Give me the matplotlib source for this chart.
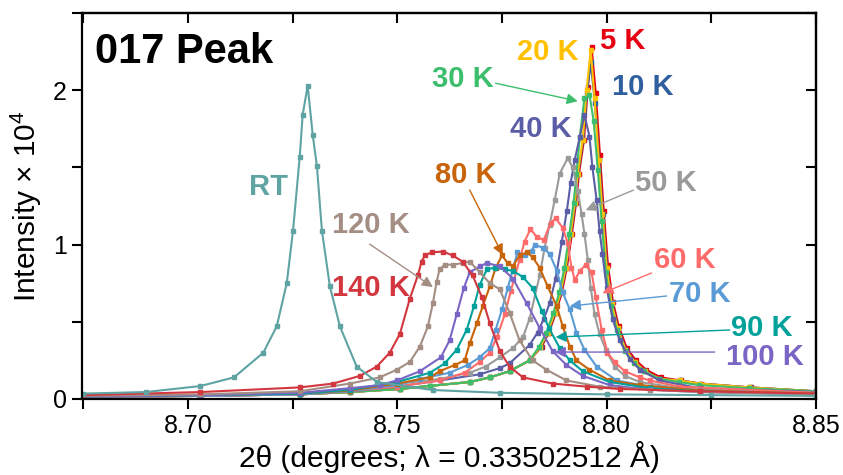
import matplotlib
matplotlib.use("Agg")
import matplotlib.pyplot as plt
from matplotlib.ticker import MultipleLocator

plt.rcParams['font.family'] = ['Liberation Sans', 'DejaVu Sans']
plt.rcParams['mathtext.fontset'] = 'custom'
plt.rcParams['mathtext.rm'] = 'Liberation Sans'
plt.rcParams['mathtext.it'] = 'Liberation Sans'

# ---------------- data (2theta in degrees, intensity x 1e4) ----------------
x_5K = [8.675, 8.703, 8.7267, 8.7387, 8.7506, 8.7578, 8.7673, 8.7721, 8.7768, 8.7816, 8.7845, 8.7862,
        8.7879, 8.7893, 8.7905, 8.7917, 8.7927, 8.7934, 8.7946, 8.7955, 8.7964, 8.7974, 8.7984, 8.7993,
        8.8003, 8.8015, 8.8029, 8.8048, 8.8070, 8.8094, 8.8129, 8.8177, 8.8225, 8.8344, 8.85]
y_5K = [0.015, 0.02, 0.03, 0.045, 0.065, 0.085, 0.11, 0.14, 0.18, 0.25, 0.34, 0.43,
        0.56, 0.69, 0.85, 1.07, 1.27, 1.46, 1.68, 2.02, 2.28, 1.98, 1.58, 1.22,
        0.87, 0.63, 0.47, 0.33, 0.25, 0.19, 0.14, 0.12, 0.10, 0.075, 0.05]

x_10K = [8.675, 8.703, 8.7267, 8.7387, 8.7506, 8.7578, 8.7673, 8.7721, 8.7768, 8.7816, 8.7843, 8.7860,
         8.7877, 8.7891, 8.7903, 8.7915, 8.7925, 8.7932, 8.7944, 8.7953, 8.7962, 8.7972, 8.7982, 8.7991,
         8.8001, 8.8013, 8.8027, 8.8046, 8.8068, 8.8092, 8.8127, 8.8175, 8.8223, 8.8342, 8.85]
y_10K = [0.015, 0.02, 0.03, 0.045, 0.065, 0.085, 0.11, 0.14, 0.18, 0.25, 0.34, 0.43,
         0.56, 0.69, 0.85, 1.07, 1.27, 1.46, 1.68, 1.98, 2.18, 1.92, 1.55, 1.20,
         0.85, 0.62, 0.46, 0.32, 0.24, 0.18, 0.13, 0.12, 0.10, 0.075, 0.05]

x_20K = [8.675, 8.703, 8.7267, 8.7387, 8.7506, 8.7578, 8.7673, 8.7721, 8.7768, 8.7816, 8.7842, 8.7859,
         8.7876, 8.7890, 8.7902, 8.7914, 8.7924, 8.7931, 8.7943, 8.7952, 8.7962, 8.7971, 8.7981, 8.7990,
         8.8000, 8.8012, 8.8026, 8.8045, 8.8067, 8.8091, 8.8126, 8.8174, 8.8222, 8.8341, 8.85]
y_20K = [0.015, 0.02, 0.03, 0.045, 0.065, 0.085, 0.11, 0.14, 0.18, 0.25, 0.34, 0.43,
         0.56, 0.69, 0.85, 1.07, 1.27, 1.46, 1.68, 2.00, 2.26, 1.95, 1.55, 1.20,
         0.85, 0.62, 0.46, 0.32, 0.24, 0.18, 0.13, 0.12, 0.10, 0.075, 0.05]

x_30K = [8.675, 8.703, 8.7267, 8.7387, 8.7506, 8.7578, 8.7673, 8.7721, 8.7768, 8.7816, 8.7839, 8.7856,
         8.7873, 8.7887, 8.7899, 8.7911, 8.7921, 8.7928, 8.7936, 8.7947, 8.7959, 8.7969, 8.7979, 8.7988,
         8.7998, 8.8010, 8.8024, 8.8043, 8.8065, 8.8089, 8.8124, 8.8172, 8.8220, 8.8339, 8.85]
y_30K = [0.015, 0.02, 0.03, 0.045, 0.065, 0.085, 0.11, 0.14, 0.18, 0.25, 0.34, 0.43,
         0.56, 0.69, 0.85, 1.07, 1.27, 1.46, 1.70, 1.95, 1.97, 1.80, 1.48, 1.15,
         0.82, 0.60, 0.45, 0.31, 0.23, 0.18, 0.13, 0.11, 0.09, 0.07, 0.05]

x_40K = [8.675, 8.703, 8.7267, 8.7387, 8.7499, 8.7601, 8.7697, 8.7745, 8.7768, 8.7816, 8.7835, 8.7850,
         8.7864, 8.7878, 8.7893, 8.7905, 8.7914, 8.7924, 8.7936, 8.7947, 8.7959, 8.7966, 8.7976, 8.7983,
         8.7990, 8.8000, 8.8014, 8.8031, 8.8055, 8.8079, 8.8126, 8.8222, 8.85]
y_40K = [0.015, 0.02, 0.03, 0.05, 0.08, 0.12, 0.16, 0.20, 0.23, 0.35, 0.43, 0.52,
         0.62, 0.78, 1.02, 1.22, 1.40, 1.55, 1.70, 1.84, 1.70, 1.50, 1.29, 1.09,
         0.94, 0.72, 0.52, 0.38, 0.26, 0.19, 0.12, 0.07, 0.045]

x_50K = [8.675, 8.703, 8.7267, 8.7387, 8.7506, 8.7601, 8.7673, 8.7711, 8.7745, 8.7776, 8.7800, 8.7816,
         8.7840, 8.7852, 8.7864, 8.7876, 8.7888, 8.7907, 8.7919, 8.7931, 8.7940, 8.7947, 8.7955, 8.7962,
         8.7971, 8.7983, 8.7998, 8.8019, 8.8043, 8.8079, 8.8174, 8.85]
y_50K = [0.015, 0.02, 0.035, 0.06, 0.10, 0.13, 0.17, 0.21, 0.27, 0.33, 0.40, 0.52,
         0.80, 0.98, 1.13, 1.29, 1.46, 1.56, 1.50, 1.35, 1.20, 1.07, 0.90, 0.72,
         0.55, 0.42, 0.32, 0.21, 0.15, 0.11, 0.07, 0.04]

x_60K = [8.675, 8.703, 8.7267, 8.7387, 8.7499, 8.7601, 8.7661, 8.7697, 8.7721, 8.7738, 8.7757, 8.7771,
         8.7792, 8.7804, 8.7818, 8.7833, 8.7850, 8.7866, 8.7878, 8.7895, 8.7907, 8.7916, 8.7924, 8.7936,
         8.7950, 8.7964, 8.7974, 8.7988, 8.8002, 8.8019, 8.8043, 8.8079, 8.8103, 8.8174, 8.85]
y_60K = [0.015, 0.02, 0.03, 0.05, 0.08, 0.12, 0.17, 0.24, 0.30, 0.40, 0.55, 0.70,
         0.90, 1.02, 1.10, 1.05, 1.03, 1.14, 1.17, 1.11, 1.01, 0.85, 0.77, 0.83,
         0.87, 0.82, 0.66, 0.45, 0.30, 0.24, 0.18, 0.14, 0.12, 0.08, 0.04]

x_70K = [8.675, 8.703, 8.7267, 8.7387, 8.7499, 8.7554, 8.7625, 8.7668, 8.7697, 8.7721, 8.7735, 8.7750,
         8.7764, 8.7787, 8.7804, 8.7821, 8.7828, 8.7847, 8.7864, 8.7881, 8.7895, 8.7912, 8.7928, 8.7947,
         8.7976, 8.8024, 8.8103, 8.8222, 8.85]
y_70K = [0.015, 0.02, 0.03, 0.05, 0.09, 0.13, 0.17, 0.22, 0.27, 0.33, 0.45, 0.58,
         0.72, 0.95, 0.93, 0.96, 1.00, 0.98, 0.94, 0.83, 0.69, 0.58, 0.43, 0.32,
         0.21, 0.12, 0.08, 0.055, 0.035]

x_80K = [8.675, 8.703, 8.7267, 8.7387, 8.7499, 8.7578, 8.7601, 8.7637, 8.7661, 8.7673, 8.7690, 8.7704,
         8.7721, 8.7735, 8.7750, 8.7764, 8.7776, 8.7792, 8.7809, 8.7823, 8.7840, 8.7859, 8.7881, 8.7895,
         8.7912, 8.7928, 8.7959, 8.8007, 8.8079, 8.8222, 8.85]
y_80K = [0.015, 0.025, 0.035, 0.055, 0.10, 0.14, 0.18, 0.22, 0.25, 0.36, 0.49, 0.60,
         0.73, 0.85, 0.93, 0.88, 0.86, 0.93, 0.95, 0.92, 0.85, 0.73, 0.60, 0.47,
         0.34, 0.25, 0.19, 0.12, 0.09, 0.055, 0.035]

x_90K = [8.675, 8.703, 8.7267, 8.7387, 8.7499, 8.7578, 8.7613, 8.7642, 8.7666, 8.7683, 8.7697, 8.7714,
         8.7733, 8.7757, 8.7776, 8.7800, 8.7823, 8.7845, 8.7862, 8.7888, 8.7912, 8.7943, 8.8007, 8.8103,
         8.8222, 8.85]
y_90K = [0.015, 0.025, 0.035, 0.06, 0.11, 0.17, 0.23, 0.32, 0.45, 0.60, 0.74, 0.84,
         0.85, 0.84, 0.83, 0.79, 0.72, 0.57, 0.46, 0.33, 0.25, 0.18, 0.11, 0.07,
         0.05, 0.03]

x_100K = [8.675, 8.703, 8.7267, 8.7387, 8.7458, 8.7499, 8.7554, 8.7604, 8.7625, 8.7642, 8.7659, 8.7673,
          8.7697, 8.7714, 8.7745, 8.7776, 8.7809, 8.7840, 8.7871, 8.7904, 8.7943, 8.8007, 8.8103, 8.8222,
          8.85]
y_100K = [0.015, 0.025, 0.04, 0.07, 0.09, 0.12, 0.18, 0.27, 0.38, 0.55, 0.72, 0.82,
          0.86, 0.88, 0.86, 0.78, 0.62, 0.46, 0.31, 0.22, 0.15, 0.09, 0.06, 0.045,
          0.03]

x_120K = [8.675, 8.703, 8.7267, 8.7387, 8.7458, 8.7499, 8.7530, 8.7554, 8.7573, 8.7585, 8.7594, 8.7601,
          8.7613, 8.7632, 8.7656, 8.7673, 8.7697, 8.7721, 8.7745, 8.7768, 8.7792, 8.7823, 8.7856, 8.7904,
          8.7983, 8.8103, 8.8222, 8.85]
y_120K = [0.02, 0.03, 0.05, 0.10, 0.14, 0.19, 0.24, 0.34, 0.47, 0.62, 0.76, 0.84,
          0.87, 0.87, 0.88, 0.89, 0.82, 0.75, 0.71, 0.56, 0.38, 0.25, 0.19, 0.12,
          0.08, 0.06, 0.045, 0.03]

x_140K = [8.675, 8.703, 8.7267, 8.7347, 8.7411, 8.7451, 8.7482, 8.7506, 8.7530, 8.7549, 8.7558, 8.7566,
          8.7582, 8.7609, 8.7632, 8.7656, 8.7680, 8.7702, 8.7721, 8.7745, 8.7768, 8.7800, 8.7871, 8.7952,
          8.8031, 8.8222, 8.85]
y_140K = [0.025, 0.045, 0.075, 0.10, 0.15, 0.21, 0.30, 0.42, 0.65, 0.80, 0.89, 0.93,
          0.95, 0.955, 0.93, 0.89, 0.80, 0.66, 0.49, 0.31, 0.21, 0.14, 0.10, 0.08,
          0.065, 0.05, 0.035]

x_RT = [8.675, 8.690, 8.703, 8.711, 8.718, 8.7212, 8.7236, 8.7251, 8.7267, 8.7274, 8.7286, 8.7298,
        8.7308, 8.7320, 8.7339, 8.7363, 8.7403, 8.7451, 8.7585, 8.7745, 8.80, 8.825, 8.85]
y_RT = [0.035, 0.045, 0.084, 0.14, 0.30, 0.47, 0.75, 1.09, 1.57, 1.84, 2.03, 1.71,
        1.51, 1.09, 0.73, 0.47, 0.21, 0.11, 0.058, 0.04, 0.03, 0.025, 0.02]

labels = ["5 K", "10 K", "20 K", "30 K", "40 K", "50 K", "60 K", "70 K",
          "80 K", "90 K", "100 K", "120 K", "140 K", "RT"]
colors = ["#E60012", "#2F5F9E", "#FFC000", "#3DBE6C", "#5B5EA6", "#9A9A9A", "#FF6B6B",
          "#5B9BD5", "#C8640A", "#00A19A", "#7A65C5", "#A48E84", "#D2363E", "#5FA3A3"]
series_x = [x_5K, x_10K, x_20K, x_30K, x_40K, x_50K, x_60K, x_70K, x_80K, x_90K, x_100K, x_120K, x_140K, x_RT]
series_y = [y_5K, y_10K, y_20K, y_30K, y_40K, y_50K, y_60K, y_70K, y_80K, y_90K, y_100K, y_120K, y_140K, y_RT]

# label text position and (optional) arrow tail/head, in data units
label_pos = {
    "5 K": (8.8038, 2.317), "10 K": (8.8086, 2.019), "20 K": (8.7859, 2.246),
    "30 K": (8.7656, 2.071), "40 K": (8.7842, 1.748), "50 K": (8.8141, 1.398),
    "60 K": (8.8186, 0.900), "70 K": (8.8222, 0.680), "80 K": (8.7663, 1.450),
    "90 K": (8.8370, 0.460), "100 K": (8.8379, 0.272), "120 K": (8.7437, 1.126),
    "140 K": (8.7437, 0.718), "RT": (8.7193, 1.372),
}
arrows = {
    "30 K": ((8.7735, 2.045), (8.7931, 1.929)),
    "50 K": ((8.8064, 1.353), (8.7950, 1.223)),
    "80 K": ((8.7673, 1.353), (8.7752, 0.932)),
    "120 K": ((8.7434, 1.003), (8.7585, 0.725)),
    "60 K": ((8.8107, 0.816), (8.7990, 0.686)),
    "70 K": ((8.8143, 0.667), (8.7912, 0.602)),
    "90 K": ((8.8294, 0.447), (8.7878, 0.401)),
    "100 K": ((8.8258, 0.304), (8.7876, 0.304)),
}

# ---------------- figure ----------------
fig = plt.figure(figsize=(8.43, 4.75), dpi=100)
ax = fig.add_axes([82 / 843, 76 / 475, (816 - 82) / 843, (399 - 13) / 475])

for xs, ys, c in zip(series_x, series_y, colors):
    ax.plot(xs, ys, color=c, lw=1.5, marker='s', ms=2.2, mec=c, mfc=c)

for lab, c in zip(labels, colors):
    tx, ty = label_pos[lab]
    ax.text(tx, ty, lab, color=c, fontsize=21, fontweight='bold', ha='center', va='center')
    if lab in arrows:
        (x0, y0), (x1, y1) = arrows[lab]
        ax.annotate("", xy=(x1, y1), xytext=(x0, y0),
                    arrowprops=dict(arrowstyle='-|>', color=c, lw=1.0, mutation_scale=16,
                                    shrinkA=0, shrinkB=0))

ax.text(8.6778, 2.246, "017 Peak", fontsize=30, fontweight='bold', color='black',
        ha='left', va='center')

ax.set_xlim(8.6747, 8.85)
ax.set_ylim(0, 2.5)
ax.xaxis.set_major_locator(MultipleLocator(0.05))
ax.xaxis.set_minor_locator(MultipleLocator(0.025))
ax.yaxis.set_major_locator(MultipleLocator(1))
ax.yaxis.set_minor_locator(MultipleLocator(0.5))
ax.xaxis.set_major_formatter(matplotlib.ticker.FormatStrFormatter('%.2f'))
ax.tick_params(which='both', direction='out', length=7, width=1.5, labelsize=18, pad=4)

for sp in ax.spines.values():
    sp.set_linewidth(1.6)

secx = ax.secondary_xaxis('top')
secx.xaxis.set_major_locator(MultipleLocator(0.05))
secx.xaxis.set_minor_locator(MultipleLocator(0.025))
secx.tick_params(which='both', direction='in', length=7, width=1.5, labeltop=False)
secx.spines['top'].set_linewidth(1.6)
secy = ax.secondary_yaxis('right')
secy.yaxis.set_major_locator(MultipleLocator(1))
secy.yaxis.set_minor_locator(MultipleLocator(0.5))
secy.tick_params(which='both', direction='in', length=7, width=1.5, labelright=False)
secy.spines['right'].set_linewidth(1.6)

ax.set_xlabel("2θ (degrees; λ = 0.33502512 Å)", fontsize=21.5, labelpad=2)
ax.set_ylabel("Intensity × 10$^{\\mathrm{4}}$", fontsize=21.5, labelpad=6)

fig.savefig("out.png", dpi=100)
